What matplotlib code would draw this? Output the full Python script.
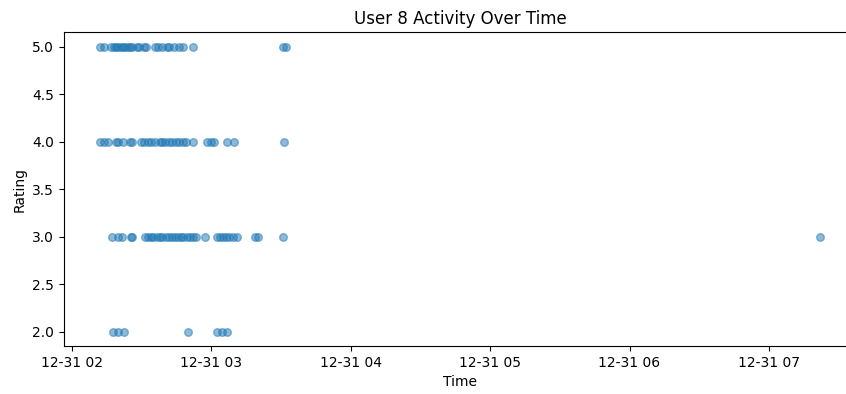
import matplotlib
matplotlib.use("Agg")
from matplotlib import pyplot as plt
import pandas as pd

day = "2023-12-31 "

# timestamps of each rating given by user 8
times_5 = ["02:12", "02:14", "02:17", "02:18", "02:19", "02:20", "02:21", "02:22",
           "02:23", "02:24", "02:25", "02:26", "02:28", "02:29", "02:31", "02:32",
           "02:36", "02:37", "02:39", "02:41", "02:42", "02:44", "02:46", "02:48",
           "02:52", "03:31", "03:32"]
times_4 = ["02:12", "02:14", "02:15:30", "02:19", "02:20", "02:22", "02:25", "02:26",
           "02:30", "02:31", "02:33", "02:34", "02:36", "02:38", "02:39", "02:40",
           "02:42", "02:43", "02:45", "02:46", "02:48", "02:49", "02:52", "02:58",
           "03:00", "03:01", "03:07", "03:10", "03:31:30"]
times_3 = ["02:17:30", "02:20", "02:21:30", "02:25:30", "02:26", "02:31:30", "02:32:40",
           "02:34", "02:35", "02:36:30", "02:38", "02:39", "02:40:30", "02:41:40",
           "02:43", "02:44:20", "02:45:40", "02:47", "02:48", "02:49:30", "02:50:40",
           "02:52", "02:53:40", "02:57:10", "03:02:20", "03:03:40", "03:05", "03:06:10",
           "03:07:30", "03:09:10", "03:11", "03:19", "03:20", "03:31", "07:22:00"]
times_2 = ["02:17:40", "02:19:50", "02:22:20", "02:49:50", "03:02:20", "03:04:30",
           "03:06:40"]

rows = []
for rating, times in [(5, times_5), (4, times_4), (3, times_3), (2, times_2)]:
    for t in times:
        rows.append((pd.Timestamp(day + t), rating))
df = pd.DataFrame(rows, columns=["timestamp", "rating"]).sort_values("timestamp")

fig, ax = plt.subplots(figsize=(8.46, 3.94), dpi=100)
# the plot area runs a little past the right edge of the canvas
fig.subplots_adjust(left=0.0752, right=1.012, bottom=0.122, top=0.918)
ax.scatter(df["timestamp"], df["rating"], alpha=0.5, s=30)
ax.set_title("User 8 Activity Over Time")
ax.set_xlabel("Time")
ax.set_ylabel("Rating")
fig.savefig("out.png")
